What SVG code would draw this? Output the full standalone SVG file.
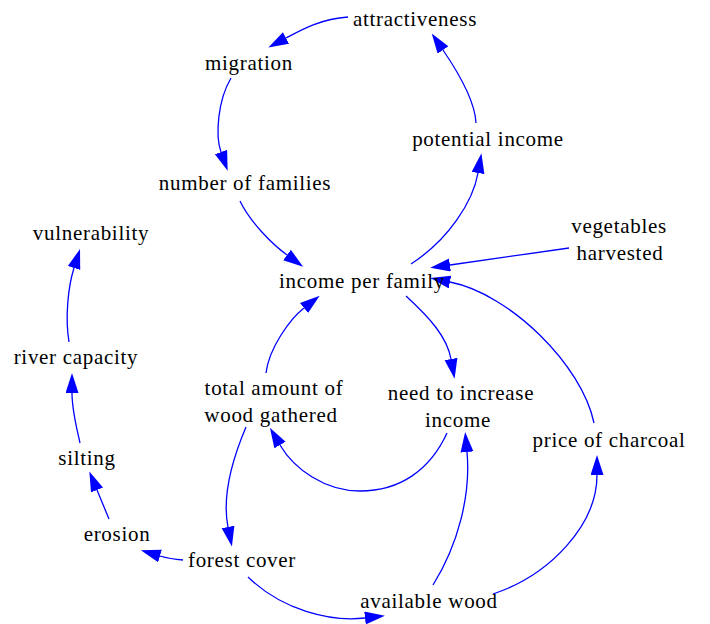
<svg xmlns="http://www.w3.org/2000/svg" width="710" height="624" viewBox="0 0 710 624">
<style>
text{font-family:"Liberation Serif","Times New Roman",serif;font-size:21px;fill:#000;text-anchor:middle;letter-spacing:0.7px}
.e{fill:none;stroke:#0000ff;stroke-width:1.3;marker-end:url(#ah)}
</style>
<defs>
<marker id="ah" markerUnits="userSpaceOnUse" markerWidth="22" markerHeight="14" refX="0" refY="6.5" orient="auto"><path d="M0,0 L20,6.5 L0,13 z" fill="#0000ff"/></marker>
</defs>
<rect width="710" height="624" fill="#fff"/>
<g id="connectors">
<path class="e" d="M348,17 C320,19 301,30 286,38"/>
<path class="e" d="M231,78 C218,100 215,135 221,152"/>
<path class="e" d="M476,123 C475,100 458,72 443,50"/>
<path class="e" d="M411,264 C448,240 473,202 478,173"/>
<path class="e" d="M240,201 C250,222 272,244 287,255"/>
<path class="e" d="M569,248 L450,265"/>
<path class="e" d="M594,423 C582,365 510,294 450,282"/>
<path class="e" d="M406,296 C430,318 447,337 451,359"/>
<path class="e" d="M266,373 C269,348 290,319 304,308"/>
<path class="e" d="M447,433 C430,470 400,491 360,491 C325,491 294,469 280,445"/>
<path class="e" d="M246,427 C232,460 222,497 228,527"/>
<path class="e" d="M183,560 Q170,559 160,556"/>
<path class="e" d="M109,519 L97,490"/>
<path class="e" d="M80,443 C76,425 72,410 72,393"/>
<path class="e" d="M69,342 C65,318 68,287 74,268"/>
<path class="e" d="M248,577 C282,610 330,622 365,618"/>
<path class="e" d="M433,585 C458,545 471,495 467,452"/>
<path class="e" d="M493,594 C550,575 597,525 597,475"/>
</g>
<g id="attractiveness"><text x="415" y="26">attractiveness</text></g>
<g id="migration"><text x="249" y="70">migration</text></g>
<g id="number_of_families"><text x="245" y="190">number of families</text></g>
<g id="potential_income"><text x="488" y="146">potential income</text></g>
<g id="vegetables_harvested"><text x="619" y="233">vegetables</text><text x="620" y="260">harvested</text></g>
<g id="income_per_family"><text x="362" y="288">income per family</text></g>
<g id="vulnerability"><text x="91" y="240">vulnerability</text></g>
<g id="river_capacity"><text x="76" y="364">river capacity</text></g>
<g id="total_amount_of_wood_gathered"><text x="274" y="395">total amount of</text><text x="271" y="422">wood gathered</text></g>
<g id="need_to_increase_income"><text x="461" y="400">need to increase</text><text x="458" y="427">income</text></g>
<g id="price_of_charcoal"><text x="609" y="447">price of charcoal</text></g>
<g id="silting"><text x="87" y="465">silting</text></g>
<g id="erosion"><text x="117" y="541">erosion</text></g>
<g id="forest_cover"><text x="242" y="567">forest cover</text></g>
<g id="available_wood"><text x="429" y="608">available wood</text></g>
</svg>
